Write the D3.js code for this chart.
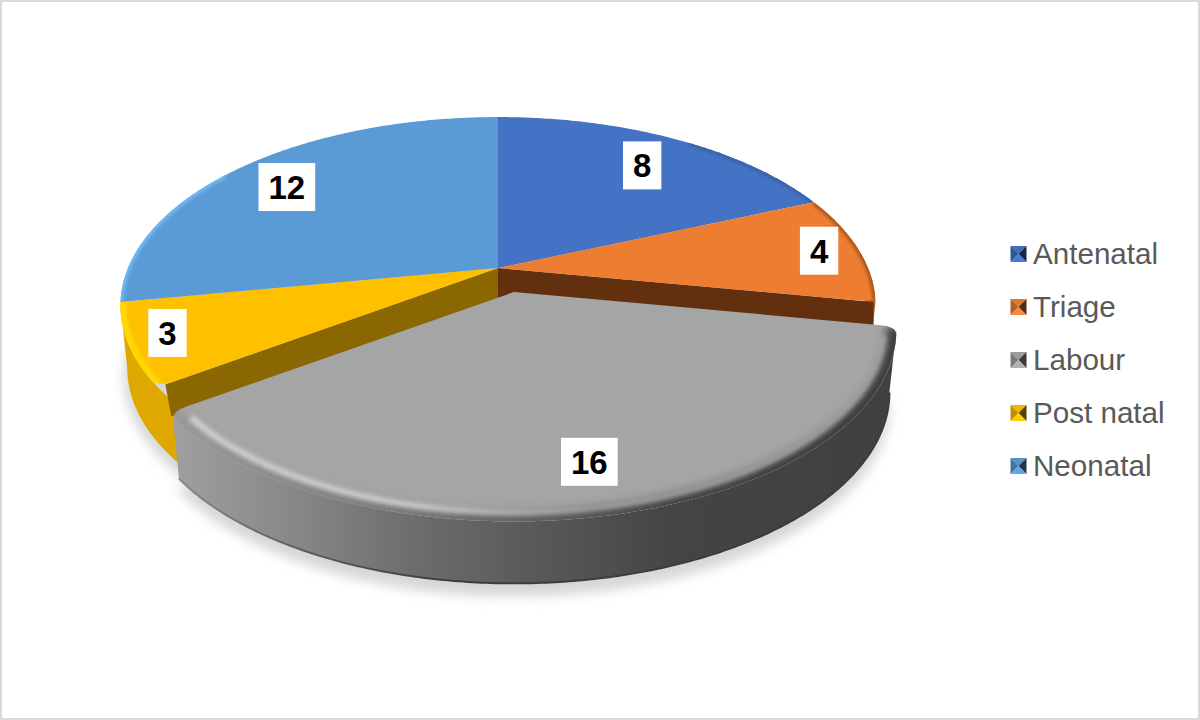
<!DOCTYPE html>
<html>
<head>
<meta charset="utf-8">
<script src="https://cdn.jsdelivr.net/npm/d3@7"></script>
<style>
  html, body { margin: 0; padding: 0; background: #fff; }
  svg { display: block; }
  text { font-family: "Liberation Sans", Arial, sans-serif; }
</style>
</head>
<body>
<svg id="chart" width="1200" height="720"></svg>
<script>
const categories = ["Antenatal", "Triage", "Labour", "Post natal", "Neonatal"];
const values = [8, 4, 16, 3, 12];

const topColors = ["#4472c4", "#ed7d31", "#a5a5a5", "#ffc000", "#5b9bd5"];
const bevelColors = ["#3a62aa", "#a9591f", "#a5a5a5", "#ffd800", "#70b8f5"];
const wallColors = ["#2f5597", "#b5621f", "#666666", "#dfa800", "#dfa800"];
const cutColors = ["#2a4a80", "#63300f", "#555555", "#8a6700", "#3d6f9c"];
const labelRadius = [0.8, 0.89, 0.81, 0.905, 0.82];
const labelNudge = [[0, 4], [0, 0], [-2, 0], [1, -4], [0, 5]];

const EXPLODED = 2;
const cx = 498, cy = 268;
const kPersp = 0.199, scaleX = 370, scaleY = 181;
const depth = 62;
const shift = { x: 16, y: 24 };
const labourScale = 1.012;
const SILHOUETTE = 1.436 * Math.PI;

const svg = d3.select("#chart");
const defs = svg.append("defs");

// border of the chart area
svg.append("rect")
    .attr("x", 1).attr("y", 1).attr("width", 1198).attr("height", 718)
    .attr("fill", "#fff").attr("stroke", "#d9d9d9").attr("stroke-width", 2);

const blur = (id, sd) => defs.append("filter")
    .attr("id", id).attr("x", "-20%").attr("y", "-20%").attr("width", "140%").attr("height", "140%")
    .append("feGaussianBlur").attr("stdDeviation", sd);
blur("blurShadow", 6);
blur("blurBevel", 4.5);
blur("blurLight", 2.4);
blur("blurRim", 1.6);

const gradient = (id, stops) => {
    const g = defs.append("linearGradient").attr("id", id)
        .attr("gradientUnits", "userSpaceOnUse")
        .attr("x1", 170).attr("x2", 900).attr("y1", 0).attr("y2", 0);
    stops.forEach(s => g.append("stop").attr("offset", (s[0] - 170) / 730).attr("stop-color", s[1]));
};
gradient("labourWall", [[170, "#a0a0a0"], [300, "#868686"], [420, "#6c6c6c"], [540, "#585858"], [680, "#444444"], [900, "#404040"]]);
gradient("labourEdge", [[170, "#9a9a9a"], [400, "#7a7a7a"], [540, "#5e5e5e"], [680, "#444444"], [900, "#3c3c3c"]]);
gradient("labourLight", [[170, "#dcdcdc"], [420, "#dadada"], [500, "#bcbcbc"], [590, "#a5a5a5"], [900, "#a5a5a5"]]);
gradient("labourFoot", [[170, "#8c8c8c"], [300, "#5e5e5e"], [450, "#3c3c3c"], [900, "#3c3c3c"]]);

const pie = d3.pie().sort(null).startAngle(0).endAngle(2 * Math.PI);
const slices = pie(values);

// 3D disc point -> screen
function project(r, a, off) {
    const R = off ? r * labourScale : r;
    const X = R * Math.sin(a), t = -R * Math.cos(a);
    const w = 1 - kPersp * t;
    return {
        x: cx + scaleX * X / w + (off ? shift.x : 0),
        y: cy + scaleY * t / w + (off ? shift.y : 0),
        w: w
    };
}
function lower(p, off) {
    const ox = off ? shift.x : 0;
    return { x: ox + cx + (p.x - ox - cx) * 0.982, y: p.y + depth };
}

const line = d3.line().x(d => d.x).y(d => d.y);

function rim(a0, a1, r, off) {
    const n = Math.max(2, Math.ceil(Math.abs(a1 - a0) / 0.01));
    return d3.range(n + 1).map(i => project(r, a0 + (a1 - a0) * i / n, off));
}

// rounded corner where radial edge meets rim
function corner(a, dir, off) {
    const A = project(0.955, a, off), C = project(1, a, off), B = project(1, a + dir * 0.04, off);
    return d3.range(9).map(i => {
        const u = i / 8, v = 1 - u;
        return { x: v * v * A.x + 2 * u * v * C.x + u * u * B.x, y: v * v * A.y + 2 * u * v * C.y + u * u * B.y };
    });
}

function outline(i, off) {
    const s = slices[i];
    const rs = i === EXPLODED || i === EXPLODED + 1;
    const re = i === EXPLODED || i === EXPLODED - 1;
    const a0 = rs ? s.startAngle + 0.04 : s.startAngle;
    const a1 = re ? s.endAngle - 0.04 : s.endAngle;
    let pts = [project(0, 0, off)];
    if (rs) pts = pts.concat(corner(s.startAngle, 1, off));
    pts = pts.concat(rim(a0, a1, 1, off));
    if (re) pts = pts.concat(corner(s.endAngle, -1, off).reverse());
    return pts;
}

function wallBetween(a0, a1, off) {
    const up = rim(a0, a1, 1, off);
    return line(up.concat(up.map(p => lower(p, off)).reverse())) + "Z";
}

// open face of the pie, only as deep as labour leaves it showing
function cutPath(a, r, h, lean) {
    const p0 = project(0, 0), p1 = project(r, a);
    return line([p0, p1, { x: p1.x + lean, y: p1.y + h }, { x: p0.x, y: p0.y + h }]) + "Z";
}

// soft shadow under the pie
const gShadow = svg.append("g").attr("filter", "url(#blurShadow)").attr("fill", "#d6d6d6").attr("transform", "translate(0,13)");
const fullBottom = (off) => line(rim(0, 2 * Math.PI, 1, off).map(p => lower(p, off))) + "Z";
gShadow.append("path").attr("d", fullBottom(false)).attr("transform", "translate(-3,-4)");
gShadow.append("path").attr("d", line(rim(slices[EXPLODED].startAngle, slices[EXPLODED].endAngle, 1, true).map(p => lower(p, true))) + "Z");

const gMain = svg.append("g");
const gLabour = svg.append("g");
const gLabels = svg.append("g");
const gLegend = svg.append("g");

// outer walls still visible: triage on the right, post natal on the left (tucked under labour)
const lab = slices[EXPLODED];
gMain.append("path").attr("d", wallBetween(Math.PI / 2, lab.startAngle, false)).attr("fill", wallColors[1]);
gMain.append("path").attr("d", wallBetween(lab.endAngle - 0.14, SILHOUETTE, false)).attr("fill", wallColors[3]);

// inner faces left open by the pulled out slice
gMain.append("path").attr("d", cutPath(lab.startAngle, 0.995, depth, 0)).attr("fill", cutColors[1]);
gMain.append("path").attr("d", cutPath(lab.endAngle, 0.98, 32, 6)).attr("fill", cutColors[3]);

// which part of each rim catches the bevel, as share of the slice
const bevelFrom = [0.55, 0, 0, 0, 0];
const bevelTo = [1, 1, 1, 1, 0.45];

// top surfaces and their bevels
slices.forEach((s, i) => {
    if (i === EXPLODED) return;
    const d = line(outline(i, false)) + "Z";
    const id = "clip" + i;
    defs.append("clipPath").attr("id", id).append("path").attr("d", d);
    gMain.append("path").attr("d", d).attr("fill", topColors[i]);
    const span = s.endAngle - s.startAngle;
    const g = gMain.append("g").attr("clip-path", `url(#${id})`);
    g.append("path")
        .attr("d", line(rim(s.startAngle + span * bevelFrom[i], s.startAngle + span * bevelTo[i], 1, false)))
        .attr("fill", "none")
        .attr("stroke", bevelColors[i])
        .attr("stroke-width", i === 3 ? 12 : 6)
        .attr("filter", "url(#blurRim)");
});

// pulled out slice
{
    gLabour.append("path").attr("d", wallBetween(lab.startAngle + 0.02, lab.endAngle - 0.02, true)).attr("fill", "url(#labourWall)");
    gLabour.append("path")
        .attr("d", line(rim(lab.startAngle + 0.02, lab.endAngle - 0.02, 1, true).map(p => lower(p, true))))
        .attr("fill", "none").attr("stroke", "url(#labourFoot)").attr("stroke-width", 2);

    const d = line(outline(EXPLODED, true)) + "Z";
    defs.append("clipPath").attr("id", "clipLabour").append("path").attr("d", d);
    gLabour.append("path").attr("d", d).attr("fill", topColors[EXPLODED]);
    const g = gLabour.append("g").attr("clip-path", "url(#clipLabour)");
    g.append("path").attr("d", line(rim(lab.startAngle, lab.endAngle, 1, true))).attr("fill", "none")
        .attr("stroke", "url(#labourEdge)").attr("stroke-width", 20).attr("filter", "url(#blurBevel)");
    g.append("path").attr("d", line(rim(lab.startAngle + 0.05, lab.endAngle - 0.05, 0.968, true))).attr("fill", "none")
        .attr("stroke", "url(#labourLight)").attr("stroke-width", 5).attr("filter", "url(#blurLight)");
}

// data labels
const labelFont = 33;
slices.forEach((s, i) => {
    const mid = (s.startAngle + s.endAngle) / 2;
    const p = project(labelRadius[i] / (i === EXPLODED ? labourScale : 1), mid, i === EXPLODED);
    const g = gLabels.append("g").attr("transform", `translate(${p.x + labelNudge[i][0]},${p.y + labelNudge[i][1]})`);
    const txt = String(values[i]);
    const w = txt.length * labelFont * 0.556 + 20;
    g.append("rect").attr("x", -w / 2).attr("y", -24).attr("width", w).attr("height", 48).attr("fill", "#fff");
    g.append("text").attr("text-anchor", "middle").attr("y", 12)
        .attr("font-size", labelFont).attr("font-weight", "bold").attr("fill", "#000").text(txt);
});

// legend
const legendY = d3.scalePoint().domain(categories).range([254, 466]);
const sw = 8;
categories.forEach((c, i) => {
    const g = gLegend.append("g").attr("transform", `translate(1018.5,${legendY(c)})`);
    const col = d3.color(topColors[i]);
    const faces = [
        [[-sw, -sw], [sw, -sw], col.darker(0.15)],
        [[-sw, -sw], [-sw, sw], col.darker(0.8)],
        [[sw, -sw], [sw, sw], col.darker(3)],
        [[-sw, sw], [sw, sw], col.brighter(0.2)]
    ];
    faces.forEach(f => {
        g.append("path").attr("d", line([{ x: 0, y: 0 }, { x: f[0][0], y: f[0][1] }, { x: f[1][0], y: f[1][1] }]) + "Z")
            .attr("fill", f[2]);
    });
    g.append("text").attr("x", 14.5).attr("y", 10).attr("font-size", 29.6).attr("fill", "#595959").text(c);
});
</script>
</body>
</html>
